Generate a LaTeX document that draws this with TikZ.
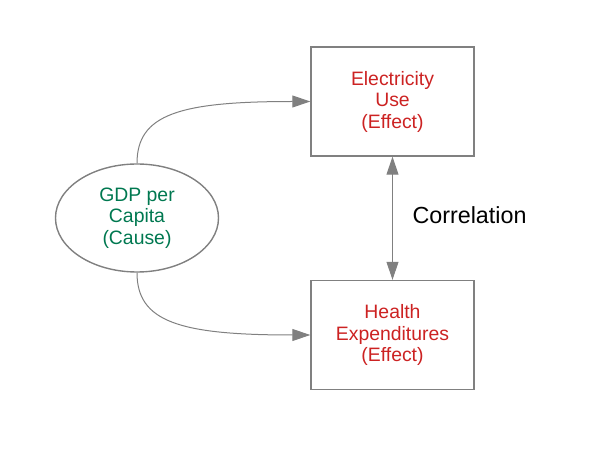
\documentclass[tikz,border=0pt]{standalone}
\usepackage{fontspec}
\setmainfont{Liberation Sans}
\usetikzlibrary{shapes.geometric,arrows.meta,positioning}
\definecolor{effectred}{RGB}{204,34,34}
\definecolor{causegreen}{RGB}{0,120,80}
\definecolor{linegray}{RGB}{128,128,128}
\tikzstyle{effect} = [rectangle, minimum width=163pt, minimum height=109pt,
align=center, draw=linegray, line width=1.4pt, text=effectred,
font=\fontsize{19.4}{21.5}\selectfont]
\tikzstyle{cause} = [ellipse, minimum width=163pt, minimum height=108pt,
inner sep=0pt, align=center, draw=linegray, line width=1.4pt,
text=causegreen, font=\fontsize{19.4}{21.5}\selectfont]
\tikzstyle{arrow} = [draw=linegray, line width=1pt]
\tikzset{>={Triangle[length=18pt,width=12pt]}}

\begin{document}
\begin{tikzpicture}[x=1pt, y=1pt]
  \useasboundingbox (0,0) rectangle (600,450);
  \node[cause] (gdp) at (137,232) {GDP per\\Capita\\(Cause)};
  \node[effect] (elec) at (392.5,348.5) {Electricity\\Use\\(Effect)};
  \node[effect] (health) at (392.5,115) {Health\\Expenditures\\(Effect)};
  \node[font=\fontsize{23.3}{26}\selectfont] (corr) at (469.5,235) {Correlation};
  % links from the cause
  \draw[arrow,->] (gdp.north) .. controls +(0,49) and +(-131,0) .. (elec.west);
  \draw[arrow,->] (gdp.south) .. controls +(0,-49) and +(-131,0) .. (health.west);
  \draw[arrow,<->] (elec.south) -- (health.north);
\end{tikzpicture}
\end{document}
